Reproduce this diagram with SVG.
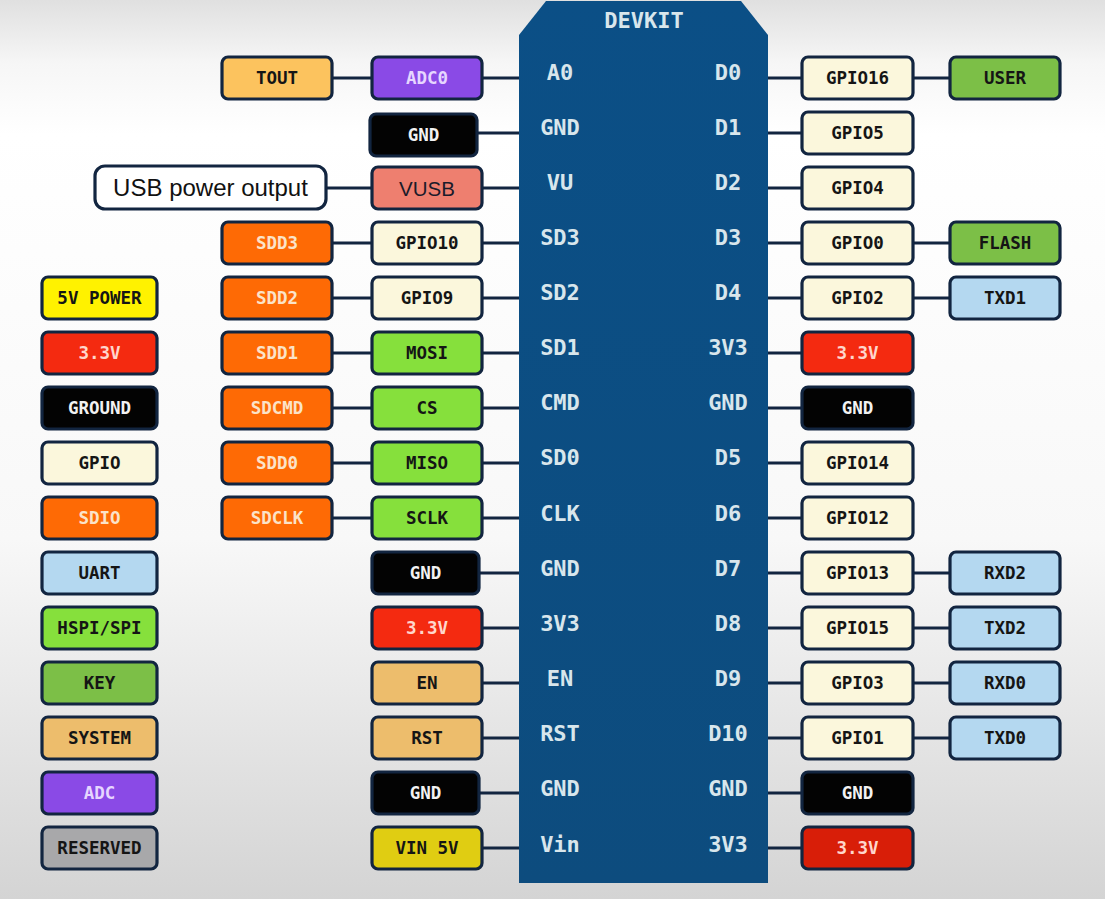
<svg xmlns="http://www.w3.org/2000/svg" width="1105" height="899" viewBox="0 0 1105 899">
<defs>
<linearGradient id="bg" x1="0" y1="0" x2="0" y2="1">
<stop offset="0" stop-color="#e0e0e0"/>
<stop offset="0.07" stop-color="#f6f6f6"/>
<stop offset="0.15" stop-color="#ffffff"/>
<stop offset="0.6" stop-color="#f8f8f8"/>
<stop offset="1" stop-color="#d4d4d4"/>
</linearGradient>
<linearGradient id="brd" x1="0" y1="0" x2="0" y2="1">
<stop offset="0" stop-color="#0b4f86"/>
<stop offset="1" stop-color="#0d4c7e"/>
</linearGradient>
</defs>
<style>
.b{stroke:#122540;stroke-width:3.2}
.t{font-family:"DejaVu Sans Mono","Liberation Mono",monospace;font-weight:bold;font-size:17.5px;text-anchor:middle}
.p{font-family:"DejaVu Sans Mono","Liberation Mono",monospace;font-weight:bold;font-size:22px;fill:#d8e6ec;text-anchor:middle}
.c line{stroke:#122540;stroke-width:3}
.tout{fill:#fcc35e}.adc{fill:#8a4ae6}.gnd{fill:#030303}.vusb{fill:#ee7f6f}.sdio{fill:#fe6a05}.gpio{fill:#fbf7dc}.spi{fill:#86e03c}.v33{fill:#f42a10}.sys{fill:#edbd6c}.vin{fill:#e0cd12}.v5{fill:#fff200}.key{fill:#7cbf47}.uart{fill:#b4d8f0}.res{fill:#a8a8aa}
.dk{fill:#151515}.lt{fill:#fbe3c8}.wt{fill:#f2f2f2}.lv{fill:#e6d6ff}.pk{fill:#ffd6cc}
</style>
<rect x="0" y="0" width="1105" height="899" fill="url(#bg)"/>

<g id="connectors" class="c">
<line x1="332" y1="78" x2="372" y2="78"/><line x1="482" y1="78" x2="519" y2="78"/>
<line x1="477" y1="133" x2="519" y2="133"/>
<line x1="326" y1="188" x2="372" y2="188"/><line x1="482" y1="188" x2="519" y2="188"/>
<line x1="332" y1="243" x2="372" y2="243"/><line x1="482" y1="243" x2="519" y2="243"/>
<line x1="332" y1="298" x2="372" y2="298"/><line x1="482" y1="298" x2="519" y2="298"/>
<line x1="332" y1="353" x2="372" y2="353"/><line x1="482" y1="353" x2="519" y2="353"/>
<line x1="332" y1="408" x2="372" y2="408"/><line x1="482" y1="408" x2="519" y2="408"/>
<line x1="332" y1="463" x2="372" y2="463"/><line x1="482" y1="463" x2="519" y2="463"/>
<line x1="332" y1="518" x2="372" y2="518"/><line x1="482" y1="518" x2="519" y2="518"/>
<line x1="477" y1="573" x2="519" y2="573"/>
<line x1="482" y1="628" x2="519" y2="628"/>
<line x1="482" y1="683" x2="519" y2="683"/>
<line x1="482" y1="738" x2="519" y2="738"/>
<line x1="477" y1="793" x2="519" y2="793"/>
<line x1="482" y1="848" x2="519" y2="848"/>
<line x1="768" y1="78" x2="802" y2="78"/><line x1="913" y1="78" x2="950" y2="78"/>
<line x1="768" y1="133" x2="802" y2="133"/>
<line x1="768" y1="188" x2="802" y2="188"/>
<line x1="768" y1="243" x2="802" y2="243"/><line x1="913" y1="243" x2="950" y2="243"/>
<line x1="768" y1="298" x2="802" y2="298"/><line x1="913" y1="298" x2="950" y2="298"/>
<line x1="768" y1="353" x2="802" y2="353"/>
<line x1="768" y1="408" x2="802" y2="408"/>
<line x1="768" y1="463" x2="802" y2="463"/>
<line x1="768" y1="518" x2="802" y2="518"/>
<line x1="768" y1="573" x2="802" y2="573"/><line x1="913" y1="573" x2="950" y2="573"/>
<line x1="768" y1="628" x2="802" y2="628"/><line x1="913" y1="628" x2="950" y2="628"/>
<line x1="768" y1="683" x2="802" y2="683"/><line x1="913" y1="683" x2="950" y2="683"/>
<line x1="768" y1="738" x2="802" y2="738"/><line x1="913" y1="738" x2="950" y2="738"/>
<line x1="768" y1="793" x2="802" y2="793"/>
<line x1="768" y1="848" x2="802" y2="848"/>
</g>

<g id="board">
<path d="M546,1 L741,1 L768,35 L768,883 L519,883 L519,35 Z" fill="url(#brd)"/>
<text class="p" x="644" y="28" font-size="21">DEVKIT</text>
<text class="p" x="560" y="80">A0</text><text class="p" x="728" y="80">D0</text>
<text class="p" x="560" y="135">GND</text><text class="p" x="728" y="135">D1</text>
<text class="p" x="560" y="190">VU</text><text class="p" x="728" y="190">D2</text>
<text class="p" x="560" y="245">SD3</text><text class="p" x="728" y="245">D3</text>
<text class="p" x="560" y="300">SD2</text><text class="p" x="728" y="300">D4</text>
<text class="p" x="560" y="355">SD1</text><text class="p" x="728" y="355">3V3</text>
<text class="p" x="560" y="410">CMD</text><text class="p" x="728" y="410">GND</text>
<text class="p" x="560" y="465">SD0</text><text class="p" x="728" y="465">D5</text>
<text class="p" x="560" y="521">CLK</text><text class="p" x="728" y="521">D6</text>
<text class="p" x="560" y="576">GND</text><text class="p" x="728" y="576">D7</text>
<text class="p" x="560" y="631">3V3</text><text class="p" x="728" y="631">D8</text>
<text class="p" x="560" y="686">EN</text><text class="p" x="728" y="686">D9</text>
<text class="p" x="560" y="741">RST</text><text class="p" x="728" y="741">D10</text>
<text class="p" x="560" y="796">GND</text><text class="p" x="728" y="796">GND</text>
<text class="p" x="560" y="852">Vin</text><text class="p" x="728" y="852">3V3</text>
</g>

<!-- legend -->
<g id="leg-5v"><rect class="b v5" x="42" y="277" width="115" height="42" rx="6"/><text class="t dk" x="99.5" y="304">5V POWER</text></g>
<g id="leg-33"><rect class="b v33" x="42" y="332" width="115" height="42" rx="6"/><text class="t pk" x="99.5" y="359">3.3V</text></g>
<g id="leg-gnd"><rect class="b gnd" x="42" y="387" width="115" height="42" rx="6"/><text class="t wt" x="99.5" y="414">GROUND</text></g>
<g id="leg-gpio"><rect class="b gpio" x="42" y="442" width="115" height="42" rx="6"/><text class="t dk" x="99.5" y="469">GPIO</text></g>
<g id="leg-sdio"><rect class="b sdio" x="42" y="497" width="115" height="42" rx="6"/><text class="t lt" x="99.5" y="524">SDIO</text></g>
<g id="leg-uart"><rect class="b uart" x="42" y="552" width="115" height="42" rx="6"/><text class="t dk" x="99.5" y="579">UART</text></g>
<g id="leg-spi"><rect class="b spi" x="42" y="607" width="115" height="42" rx="6"/><text class="t dk" x="99.5" y="634">HSPI/SPI</text></g>
<g id="leg-key"><rect class="b key" x="42" y="662" width="115" height="42" rx="6"/><text class="t dk" x="99.5" y="689">KEY</text></g>
<g id="leg-sys"><rect class="b sys" x="42" y="717" width="115" height="42" rx="6"/><text class="t dk" x="99.5" y="744">SYSTEM</text></g>
<g id="leg-adc"><rect class="b adc" x="42" y="772" width="115" height="42" rx="6"/><text class="t lv" x="99.5" y="799">ADC</text></g>
<g id="leg-res"><rect class="b res" x="42" y="827" width="115" height="42" rx="6"/><text class="t dk" x="99.5" y="854">RESERVED</text></g>

<!-- column A -->
<g id="tout"><rect class="b tout" x="222" y="57" width="110" height="42" rx="6"/><text class="t dk" x="277" y="84">TOUT</text></g>
<g id="usb-out"><rect x="95" y="166" width="231" height="43" rx="10" fill="#ffffff" stroke="#122540" stroke-width="3.2"/><text x="210.5" y="196" font-family="'Liberation Sans',Arial,sans-serif" font-size="24" fill="#111" text-anchor="middle">USB power output</text></g>
<g id="sdd3"><rect class="b sdio" x="222" y="222" width="110" height="42" rx="6"/><text class="t lt" x="277" y="249">SDD3</text></g>
<g id="sdd2"><rect class="b sdio" x="222" y="277" width="110" height="42" rx="6"/><text class="t lt" x="277" y="304">SDD2</text></g>
<g id="sdd1"><rect class="b sdio" x="222" y="332" width="110" height="42" rx="6"/><text class="t lt" x="277" y="359">SDD1</text></g>
<g id="sdcmd"><rect class="b sdio" x="222" y="387" width="110" height="42" rx="6"/><text class="t lt" x="277" y="414">SDCMD</text></g>
<g id="sdd0"><rect class="b sdio" x="222" y="442" width="110" height="42" rx="6"/><text class="t lt" x="277" y="469">SDD0</text></g>
<g id="sdclk"><rect class="b sdio" x="222" y="497" width="110" height="42" rx="6"/><text class="t lt" x="277" y="524">SDCLK</text></g>

<!-- column B -->
<g id="adc0"><rect class="b adc" x="372" y="57" width="110" height="42" rx="6"/><text class="t lv" x="427" y="84">ADC0</text></g>
<g id="gnd-l1"><rect class="b gnd" x="370" y="114" width="107" height="42" rx="6"/><text class="t wt" x="423.5" y="141">GND</text></g>
<g id="vusb"><rect class="b vusb" x="372" y="167" width="110" height="42" rx="6"/><text x="427" y="196" font-family="'Liberation Sans',Arial,sans-serif" font-size="20.5" fill="#1b1b2a" text-anchor="middle">VUSB</text></g>
<g id="gpio10"><rect class="b gpio" x="372" y="222" width="110" height="42" rx="6"/><text class="t dk" x="427" y="249">GPIO10</text></g>
<g id="gpio9"><rect class="b gpio" x="372" y="277" width="110" height="42" rx="6"/><text class="t dk" x="427" y="304">GPIO9</text></g>
<g id="mosi"><rect class="b spi" x="372" y="332" width="110" height="42" rx="6"/><text class="t dk" x="427" y="359">MOSI</text></g>
<g id="cs"><rect class="b spi" x="372" y="387" width="110" height="42" rx="6"/><text class="t dk" x="427" y="414">CS</text></g>
<g id="miso"><rect class="b spi" x="372" y="442" width="110" height="42" rx="6"/><text class="t dk" x="427" y="469">MISO</text></g>
<g id="sclk"><rect class="b spi" x="372" y="497" width="110" height="42" rx="6"/><text class="t dk" x="427" y="524">SCLK</text></g>
<g id="gnd-l2"><rect class="b gnd" x="372" y="552" width="107" height="42" rx="6"/><text class="t wt" x="425.5" y="579">GND</text></g>
<g id="v33-l"><rect class="b v33" x="372" y="607" width="110" height="42" rx="6"/><text class="t pk" x="427" y="634">3.3V</text></g>
<g id="en"><rect class="b sys" x="372" y="662" width="110" height="42" rx="6"/><text class="t dk" x="427" y="689">EN</text></g>
<g id="rst"><rect class="b sys" x="372" y="717" width="110" height="42" rx="6"/><text class="t dk" x="427" y="744">RST</text></g>
<g id="gnd-l3"><rect class="b gnd" x="372" y="772" width="107" height="42" rx="6"/><text class="t wt" x="425.5" y="799">GND</text></g>
<g id="vin5v"><rect class="b vin" x="372" y="827" width="110" height="42" rx="6"/><text class="t dk" x="427" y="854">VIN 5V</text></g>

<!-- column C -->
<g id="gpio16"><rect class="b gpio" x="802" y="57" width="111" height="42" rx="6"/><text class="t dk" x="857.5" y="84">GPIO16</text></g>
<g id="gpio5"><rect class="b gpio" x="802" y="112" width="111" height="42" rx="6"/><text class="t dk" x="857.5" y="139">GPIO5</text></g>
<g id="gpio4"><rect class="b gpio" x="802" y="167" width="111" height="42" rx="6"/><text class="t dk" x="857.5" y="194">GPIO4</text></g>
<g id="gpio0"><rect class="b gpio" x="802" y="222" width="111" height="42" rx="6"/><text class="t dk" x="857.5" y="249">GPIO0</text></g>
<g id="gpio2"><rect class="b gpio" x="802" y="277" width="111" height="42" rx="6"/><text class="t dk" x="857.5" y="304">GPIO2</text></g>
<g id="v33-r1"><rect class="b v33" x="802" y="332" width="111" height="42" rx="6"/><text class="t pk" x="857.5" y="359">3.3V</text></g>
<g id="gnd-r1"><rect class="b gnd" x="802" y="387" width="111" height="42" rx="6"/><text class="t wt" x="857.5" y="414">GND</text></g>
<g id="gpio14"><rect class="b gpio" x="802" y="442" width="111" height="42" rx="6"/><text class="t dk" x="857.5" y="469">GPIO14</text></g>
<g id="gpio12"><rect class="b gpio" x="802" y="497" width="111" height="42" rx="6"/><text class="t dk" x="857.5" y="524">GPIO12</text></g>
<g id="gpio13"><rect class="b gpio" x="802" y="552" width="111" height="42" rx="6"/><text class="t dk" x="857.5" y="579">GPIO13</text></g>
<g id="gpio15"><rect class="b gpio" x="802" y="607" width="111" height="42" rx="6"/><text class="t dk" x="857.5" y="634">GPIO15</text></g>
<g id="gpio3"><rect class="b gpio" x="802" y="662" width="111" height="42" rx="6"/><text class="t dk" x="857.5" y="689">GPIO3</text></g>
<g id="gpio1"><rect class="b gpio" x="802" y="717" width="111" height="42" rx="6"/><text class="t dk" x="857.5" y="744">GPIO1</text></g>
<g id="gnd-r2"><rect class="b gnd" x="802" y="772" width="111" height="42" rx="6"/><text class="t wt" x="857.5" y="799">GND</text></g>
<g id="v33-r2"><rect class="b" x="802" y="827" width="111" height="42" rx="6" fill="#d81e08"/><text class="t pk" x="857.5" y="854">3.3V</text></g>

<!-- column D -->
<g id="user"><rect class="b key" x="950" y="57" width="110" height="42" rx="6"/><text class="t dk" x="1005" y="84">USER</text></g>
<g id="flash"><rect class="b key" x="950" y="222" width="110" height="42" rx="6"/><text class="t dk" x="1005" y="249">FLASH</text></g>
<g id="txd1"><rect class="b uart" x="950" y="277" width="110" height="42" rx="6"/><text class="t dk" x="1005" y="304">TXD1</text></g>
<g id="rxd2"><rect class="b uart" x="950" y="552" width="110" height="42" rx="6"/><text class="t dk" x="1005" y="579">RXD2</text></g>
<g id="txd2"><rect class="b uart" x="950" y="607" width="110" height="42" rx="6"/><text class="t dk" x="1005" y="634">TXD2</text></g>
<g id="rxd0"><rect class="b uart" x="950" y="662" width="110" height="42" rx="6"/><text class="t dk" x="1005" y="689">RXD0</text></g>
<g id="txd0"><rect class="b uart" x="950" y="717" width="110" height="42" rx="6"/><text class="t dk" x="1005" y="744">TXD0</text></g>
</svg>
